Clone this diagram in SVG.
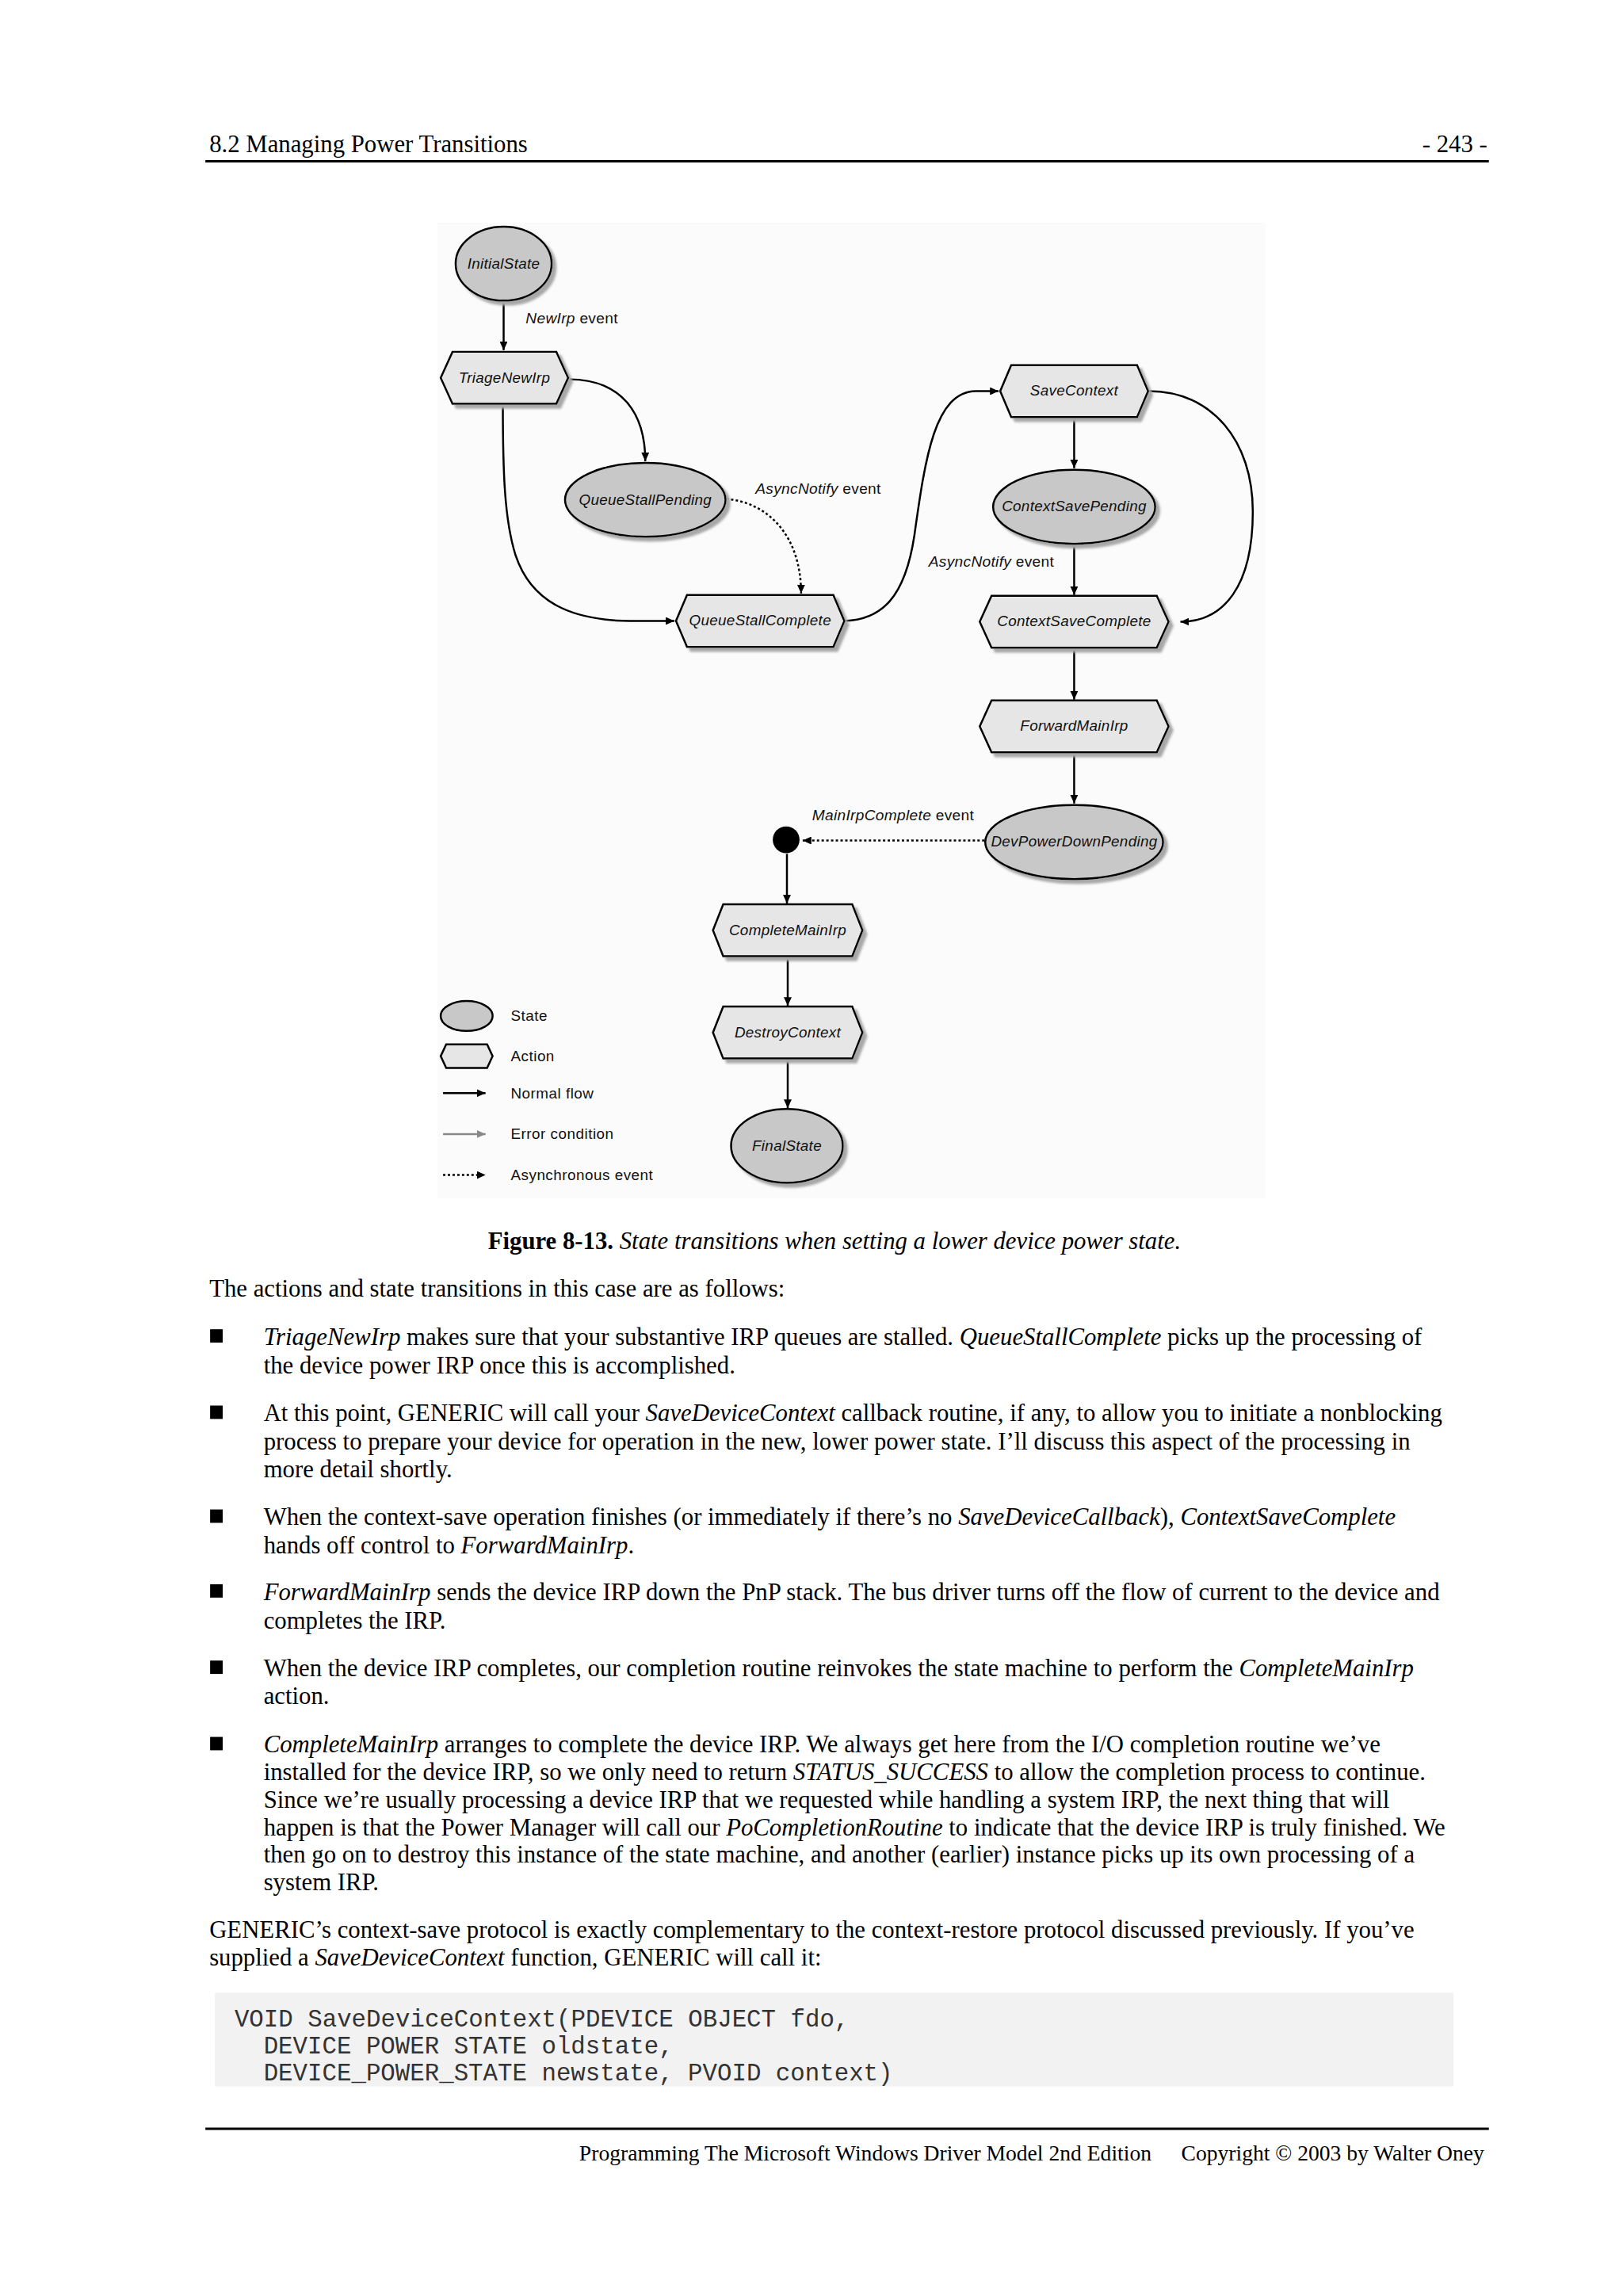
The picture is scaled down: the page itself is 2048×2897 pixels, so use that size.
<svg xmlns="http://www.w3.org/2000/svg" width="2048" height="2897" viewBox="0 0 2048 2897">
<style>
.t{font-family:"Liberation Serif","Times New Roman",serif;font-size:31px;fill:#000}
.i{font-style:italic}
.bo{font-weight:bold}
.hd{font-family:"Liberation Serif","Times New Roman",serif;font-size:31px;fill:#000}
.ft{font-family:"Liberation Serif","Times New Roman",serif;font-size:27.8px;fill:#000}
.code{font-family:"Liberation Mono","Courier New",monospace;font-size:31px;fill:#333}
.nt{font-family:"Liberation Sans",Arial,sans-serif;font-size:19px;font-style:italic;letter-spacing:0.3px;fill:#111;text-anchor:middle}
.lb{font-family:"Liberation Sans",Arial,sans-serif;font-size:19.3px;letter-spacing:0.3px;fill:#111}
.lg{font-family:"Liberation Sans",Arial,sans-serif;font-size:19px;letter-spacing:0.5px;fill:#111}
.st{fill:#c8c8c8;stroke:#000;stroke-width:2.5;filter:url(#sh)}
.ac{fill:#e6e6e6;stroke:#000;stroke-width:2.5;filter:url(#sh)}
.cn{fill:none;stroke:#000;stroke-width:2.5;marker-end:url(#ah)}
.dt{fill:none;stroke:#000;stroke-width:2.5;stroke-dasharray:3 3;marker-end:url(#ah)}
.er{fill:none;stroke:#888;stroke-width:2.5;marker-end:url(#ahg)}
.rule{stroke:#000;stroke-width:3}
</style>
<defs>
<filter id="sh" x="-10%" y="-10%" width="130%" height="140%">
<feDropShadow dx="5" dy="5" stdDeviation="1.5" flood-color="#a8a8a8" flood-opacity="1"/>
</filter>
<marker id="ah" markerUnits="userSpaceOnUse" markerWidth="12" markerHeight="10" refX="11" refY="5" orient="auto">
<path d="M0,0 L11,5 L0,10 z" fill="#000"/>
</marker>
<marker id="ahg" markerUnits="userSpaceOnUse" markerWidth="12" markerHeight="10" refX="11" refY="5" orient="auto">
<path d="M0,0 L11,5 L0,10 z" fill="#888"/>
</marker>
</defs>
<rect width="2048" height="2897" fill="#fff"/>
<g transform="scale(0.993)">
<g id="header">
<text class="hd" x="266" y="193">8.2 Managing Power Transitions</text>
<text class="hd" x="1890" y="193" text-anchor="end">- 243 -</text>
<line class="rule" x1="261" y1="205" x2="1892" y2="205"/>
</g>

<rect x="556" y="283" width="1052" height="1240" fill="#fbfbfb"/>

<g id="connectors">
<path class="cn" d="M640,382 L640,445"/>
<path class="cn" d="M723,482 C790,482 820,525 820,586"/>
<path class="cn" d="M639,514 C639,600 641,660 655,705 C675,765 725,788 800,789 L857,789"/>
<path class="dt" d="M923,634 C975,638 1018,680 1018,754"/>
<path class="cn" d="M1074,789 C1120,787 1150,760 1162,680 C1176,580 1188,498 1240,497 L1269,497"/>
<path class="cn" d="M1365,531 L1365,595"/>
<path class="cn" d="M1365,691 L1365,756"/>
<path class="cn" d="M1460,497 C1540,497 1592,560 1592,650 C1592,745 1555,790 1500,790"/>
<path class="cn" d="M1365,824 L1365,889"/>
<path class="cn" d="M1365,957 L1365,1021"/>
<path class="dt" d="M1251,1068 L1020,1068"/>
<path class="cn" d="M1000,1085 L1000,1148"/>
<path class="cn" d="M1001,1216 L1001,1278"/>
<path class="cn" d="M1001,1346 L1001,1408"/>
<text class="lb" x="668" y="411"><tspan font-style="italic">NewIrp</tspan> event</text>
<text class="lb" x="960" y="627"><tspan font-style="italic">AsyncNotify</tspan> event</text>
<text class="lb" x="1180" y="720"><tspan font-style="italic">AsyncNotify</tspan> event</text>
<text class="lb" x="1032" y="1042"><tspan font-style="italic">MainIrpComplete</tspan> event</text>
</g>

<g id="InitialState">
<ellipse class="st" cx="640" cy="335" rx="61" ry="47"/>
<text class="nt" x="640" y="341">InitialState</text>
</g>
<g id="TriageNewIrp">
<polygon class="ac" points="560,480 575,447 707,447 722,480 707,513 575,513"/>
<text class="nt" x="641" y="486">TriageNewIrp</text>
</g>
<g id="QueueStallPending">
<ellipse class="st" cx="820" cy="635" rx="102" ry="47"/>
<text class="nt" x="820" y="641">QueueStallPending</text>
</g>
<g id="QueueStallComplete">
<polygon class="ac" points="859,789 873,756 1059,756 1073,789 1059,822 873,822"/>
<text class="nt" x="966" y="795">QueueStallComplete</text>
</g>
<g id="SaveContext">
<polygon class="ac" points="1271,497 1285,464 1445,464 1459,497 1445,530 1285,530"/>
<text class="nt" x="1365" y="503">SaveContext</text>
</g>
<g id="ContextSavePending">
<ellipse class="st" cx="1365" cy="644" rx="103" ry="47"/>
<text class="nt" x="1365" y="650">ContextSavePending</text>
</g>
<g id="ContextSaveComplete">
<polygon class="ac" points="1245,790 1260,757 1470,757 1485,790 1470,823 1260,823"/>
<text class="nt" x="1365" y="796">ContextSaveComplete</text>
</g>
<g id="ForwardMainIrp">
<polygon class="ac" points="1245,923 1260,890 1470,890 1485,923 1470,956 1260,956"/>
<text class="nt" x="1365" y="929">ForwardMainIrp</text>
</g>
<g id="DevPowerDownPending">
<ellipse class="st" cx="1365" cy="1070" rx="113" ry="47"/>
<text class="nt" x="1365" y="1076">DevPowerDownPending</text>
</g>
<g id="Junction">
<circle cx="999" cy="1067" r="17" fill="#000"/>
</g>
<g id="CompleteMainIrp">
<polygon class="ac" points="906,1182 919,1149 1083,1149 1096,1182 1083,1215 919,1215"/>
<text class="nt" x="1001" y="1188">CompleteMainIrp</text>
</g>
<g id="DestroyContext">
<polygon class="ac" points="906,1312 919,1279 1083,1279 1096,1312 1083,1345 919,1345"/>
<text class="nt" x="1001" y="1318">DestroyContext</text>
</g>
<g id="FinalState">
<ellipse class="st" cx="1000" cy="1456" rx="71" ry="47"/>
<text class="nt" x="1000" y="1462">FinalState</text>
</g>

<g id="legend">
<ellipse class="st" cx="593" cy="1291" rx="33" ry="19" style="filter:none"/>
<text class="lg" x="649" y="1297">State</text>
<polygon class="ac" points="560,1342 567,1327 619,1327 626,1342 619,1357 567,1357" style="filter:none"/>
<text class="lg" x="649" y="1348">Action</text>
<path class="cn" d="M563,1389 L617,1389"/>
<text class="lg" x="649" y="1396">Normal flow</text>
<path class="er" d="M563,1441 L617,1441"/>
<text class="lg" x="649" y="1447">Error condition</text>
<path class="dt" d="M563,1493 L617,1493"/>
<text class="lg" x="649" y="1499">Asynchronous event</text>
</g>

<g id="body">
<text class="t" x="620" y="1587"><tspan class="bo">Figure 8-13.</tspan><tspan class="i"> State transitions when setting a lower device power state.</tspan></text>
<text class="t" x="266" y="1648">The actions and state transitions in this case are as follows:</text>

<rect x="267" y="1689" width="16" height="17" fill="#000"/>
<text class="t" x="335" y="1709"><tspan class="i">TriageNewIrp</tspan> makes sure that your substantive IRP queues are stalled. <tspan class="i">QueueStallComplete</tspan> picks up the processing of</text>
<text class="t" x="335" y="1745">the device power IRP once this is accomplished.</text>

<rect x="267" y="1786" width="16" height="17" fill="#000"/>
<text class="t" x="335" y="1806">At this point, GENERIC will call your <tspan class="i">SaveDeviceContext</tspan> callback routine, if any, to allow you to initiate a nonblocking</text>
<text class="t" x="335" y="1842">process to prepare your device for operation in the new, lower power state. I’ll discuss this aspect of the processing in</text>
<text class="t" x="335" y="1877">more detail shortly.</text>

<rect x="267" y="1918" width="16" height="17" fill="#000"/>
<text class="t" x="335" y="1938">When the context-save operation finishes (or immediately if there’s no <tspan class="i">SaveDeviceCallback</tspan>), <tspan class="i">ContextSaveComplete</tspan></text>
<text class="t" x="335" y="1974">hands off control to <tspan class="i">ForwardMainIrp</tspan>.</text>

<rect x="267" y="2013" width="16" height="17" fill="#000"/>
<text class="t" x="335" y="2033"><tspan class="i">ForwardMainIrp</tspan> sends the device IRP down the PnP stack. The bus driver turns off the flow of current to the device and</text>
<text class="t" x="335" y="2069">completes the IRP.</text>

<rect x="267" y="2110" width="16" height="17" fill="#000"/>
<text class="t" x="335" y="2130">When the device IRP completes, our completion routine reinvokes the state machine to perform the <tspan class="i">CompleteMainIrp</tspan></text>
<text class="t" x="335" y="2165">action.</text>

<rect x="267" y="2207" width="16" height="17" fill="#000"/>
<text class="t" x="335" y="2227"><tspan class="i">CompleteMainIrp</tspan> arranges to complete the device IRP. We always get here from the I/O completion routine we’ve</text>
<text class="t" x="335" y="2262">installed for the device IRP, so we only need to return <tspan class="i">STATUS_SUCCESS</tspan> to allow the completion process to continue.</text>
<text class="t" x="335" y="2297">Since we’re usually processing a device IRP that we requested while handling a system IRP, the next thing that will</text>
<text class="t" x="335" y="2332">happen is that the Power Manager will call our <tspan class="i">PoCompletionRoutine</tspan> to indicate that the device IRP is truly finished. We</text>
<text class="t" x="335" y="2367">then go on to destroy this instance of the state machine, and another (earlier) instance picks up its own processing of a</text>
<text class="t" x="335" y="2402">system IRP.</text>

<text class="t" x="266" y="2462">GENERIC’s context-save protocol is exactly complementary to the context-restore protocol discussed previously. If you’ve</text>
<text class="t" x="266" y="2497">supplied a <tspan class="i">SaveDeviceContext</tspan> function, GENERIC will call it:</text>
</g>

<g id="code">
<rect x="273" y="2532" width="1574" height="119" fill="#f2f2f2"/>
<text class="code" x="298" y="2575">VOID SaveDeviceContext(PDEVICE OBJECT fdo,</text>
<text class="code" x="335" y="2609">DEVICE POWER STATE oldstate,</text>
<text class="code" x="335" y="2644">DEVICE_POWER_STATE newstate, PVOID context)</text>
</g>

<g id="footer">
<line class="rule" x1="261" y1="2705" x2="1892" y2="2705"/>
<text class="ft" x="736" y="2745">Programming The Microsoft Windows Driver Model 2nd Edition</text>
<text class="ft" x="1886" y="2745" text-anchor="end">Copyright © 2003 by Walter Oney</text>
</g>
</g>
</svg>
